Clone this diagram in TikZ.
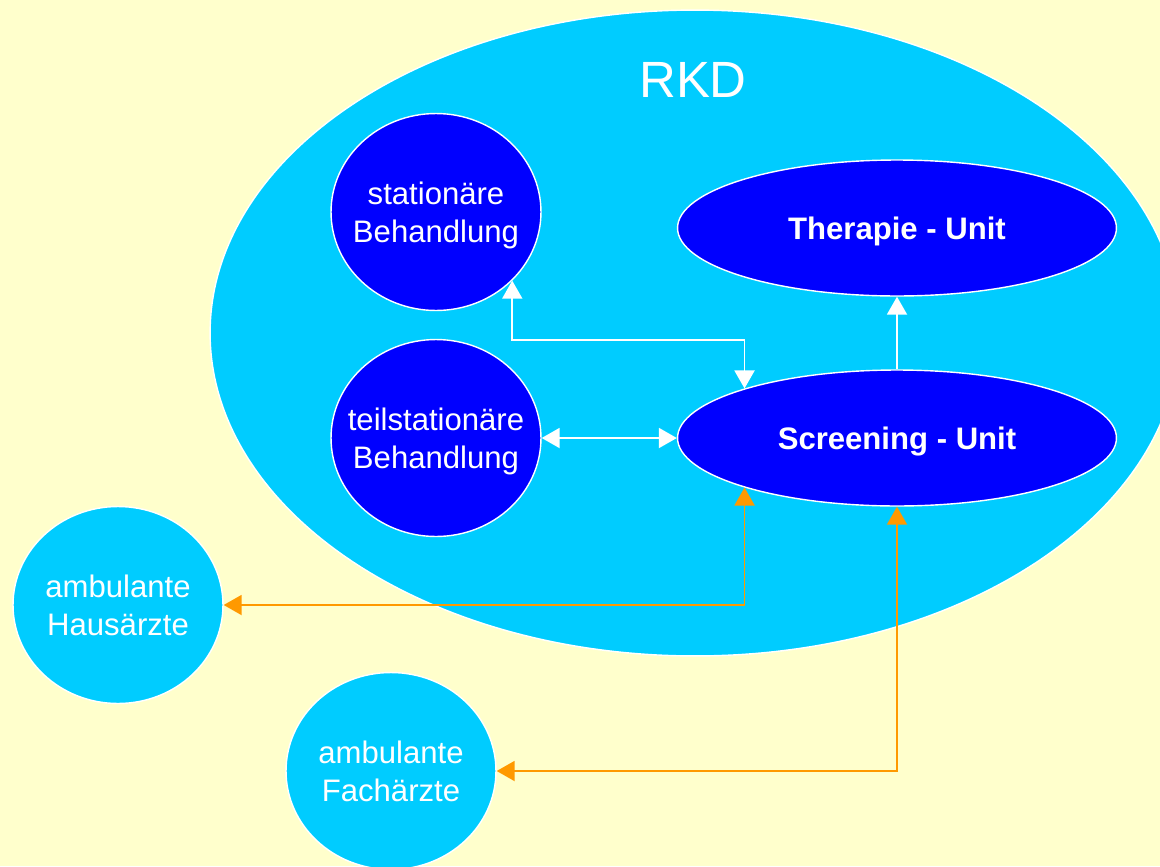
\documentclass[tikz,border=0pt]{standalone}
\usepackage{fontspec}
\setmainfont{Liberation Sans}
\usepackage{tikz}
\usepackage{xcolor}
\usetikzlibrary{arrows.meta,shapes.geometric}
\definecolor{hgelb}{HTML}{FFFFCC}
\definecolor{tuerkis}{HTML}{00CCFF}
\definecolor{dblau}{HTML}{0000FF}
\definecolor{porange}{HTML}{FF9900}

\begin{document}
\begin{tikzpicture}[x=0.02cm,y=-0.02cm,
    >={Triangle[length=0.36cm,width=0.4cm]},
    feld/.style={ellipse,draw=white,line width=0.8pt,text=white,align=center,inner ysep=0pt,inner xsep=-1cm,
        text depth=0pt,font=\fontsize{17.7}{21.5}\selectfont},
    kreis/.style={feld,minimum width=4.2cm,minimum height=3.94cm},
    unit/.style={feld,fill=dblau,minimum width=8.78cm,minimum height=2.72cm,font=\fontsize{17.7}{21.5}\selectfont\bfseries},
    wpfeil/.style={<->,white,line width=1.1pt},
    opfeil/.style={<->,porange,line width=1.1pt}]
    \fill[hgelb] (0,0) rectangle (1160,866);
    \clip (0,0) rectangle (1160,866);
    % RKD
    \node[feld,fill=tuerkis,minimum width=19.4cm,minimum height=12.92cm] (rkd) at (695,333) {};
    \node[text=white,font=\fontsize{29}{35}\selectfont] (rkdtext) at (693,80) {RKD};
    \node[kreis,fill=dblau] (stat) at (436,212) {station\"are\\Behandlung};
    \node[kreis,fill=dblau] (teil) at (436,438) {teilstation\"are\\Behandlung};
    \node[unit] (ther) at (897,228) {Therapie - Unit};
    \node[unit] (scr) at (897,438) {Screening - Unit};
    % ambulant
    \node[kreis,fill=tuerkis] (haus) at (118,605) {ambulante\\Haus\"arzte};
    \node[kreis,fill=tuerkis] (fach) at (391,771) {ambulante\\Fach\"arzte};
    \coordinate (k1) at (0,340);
    \draw[wpfeil] (stat.-42) |- (k1 -| scr.162) -- (scr.162);
    \draw[wpfeil] (teil.east) -- (scr.west);
    \draw[wpfeil,-> ] (scr.north) -- (ther.south);
    \draw[opfeil] (scr.198) |- (haus.east);
    \draw[opfeil] (scr.south) |- (fach.east);
\end{tikzpicture}
\end{document}
